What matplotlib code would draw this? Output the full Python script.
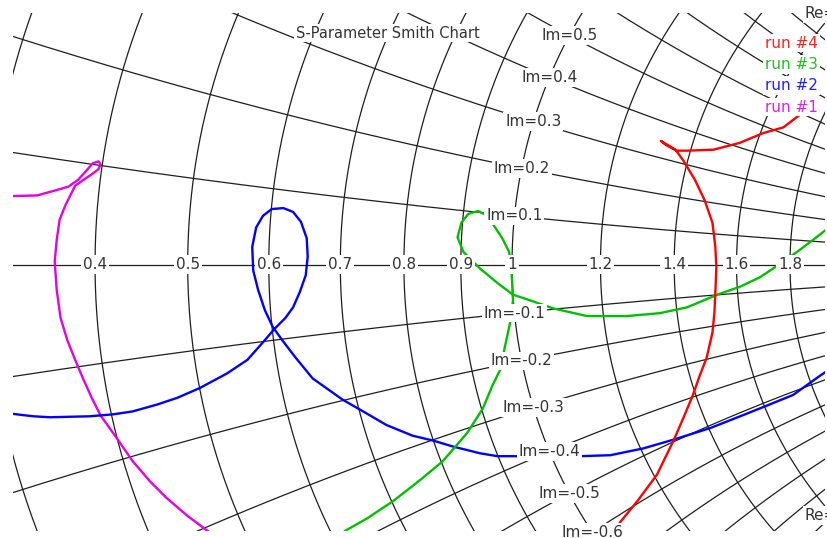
import numpy as np
import matplotlib
matplotlib.use("Agg")
import matplotlib.pyplot as plt

# S-parameter traces, reflection coefficient (real, imag)
run1_re = [-0.526, -0.488, -0.470, -0.456, -0.446, -0.437, -0.431, -0.425, -0.423, -0.425, -0.433, -0.442,
           -0.449, -0.454, -0.459, -0.465, -0.468, -0.470, -0.468, -0.464, -0.457, -0.449, -0.441, -0.432,
           -0.423, -0.408, -0.390, -0.372, -0.355, -0.334, -0.314, -0.300]
run1_im = [0.070, 0.071, 0.076, 0.080, 0.087, 0.097, 0.104, 0.106, 0.103, 0.098, 0.092, 0.086,
           0.081, 0.071, 0.061, 0.046, 0.025, 0.003, -0.026, -0.055, -0.078, -0.098, -0.117, -0.137,
           -0.155, -0.176, -0.202, -0.223, -0.240, -0.258, -0.273, -0.283]

run2_re = [-0.526, -0.492, -0.475, -0.434, -0.410, -0.390, -0.365, -0.344, -0.321, -0.293, -0.272, -0.256,
           -0.244, -0.233, -0.225, -0.218, -0.212, -0.210, -0.211, -0.217, -0.225, -0.235, -0.247, -0.256,
           -0.263, -0.267, -0.266, -0.261, -0.254, -0.246, -0.236, -0.223, -0.205, -0.174, -0.153, -0.129,
           -0.102, -0.081, -0.061, -0.033, -0.015, 0.001, 0.034, 0.070, 0.101, 0.135, 0.166, 0.204, 0.237,
           0.262, 0.289, 0.317, 0.332]
run2_im = [-0.152, -0.156, -0.157, -0.156, -0.154, -0.151, -0.144, -0.137, -0.127, -0.112, -0.098, -0.080,
           -0.066, -0.055, -0.044, -0.028, -0.011, 0.008, 0.027, 0.044, 0.054, 0.058, 0.057, 0.050,
           0.038, 0.018, -0.006, -0.026, -0.047, -0.064, -0.078, -0.095, -0.117, -0.139, -0.151, -0.165,
           -0.176, -0.181, -0.187, -0.194, -0.197, -0.197, -0.198, -0.197, -0.196, -0.189, -0.180, -0.168,
           -0.155, -0.145, -0.134, -0.114, -0.104]

run3_re = [-0.177, -0.172, -0.149, -0.122, -0.095, -0.071, -0.046, -0.030, -0.020, -0.012, -0.007, -0.002,
           0.001, 0.000, -0.001, -0.003, -0.010, -0.018, -0.025, -0.035, -0.045, -0.052, -0.056, -0.050,
           -0.033, -0.015, 0.001, 0.019, 0.042, 0.077, 0.118, 0.152, 0.180, 0.211, 0.234, 0.255, 0.270,
           0.293, 0.309, 0.327]
run3_im = [-0.283, -0.274, -0.261, -0.243, -0.222, -0.202, -0.173, -0.148, -0.124, -0.108, -0.083, -0.060,
           -0.037, -0.016, -0.001, 0.013, 0.027, 0.039, 0.050, 0.055, 0.052, 0.043, 0.028, 0.013,
           -0.004, -0.019, -0.031, -0.037, -0.045, -0.053, -0.053, -0.050, -0.044, -0.031, -0.023, -0.013, -0.003,
           0.013, 0.025, 0.039]

run4_re = [0.111, 0.129, 0.149, 0.166, 0.176, 0.186, 0.193, 0.200, 0.206, 0.208, 0.209, 0.210, 0.209,
           0.206, 0.198, 0.188, 0.176, 0.168, 0.153, 0.158, 0.169, 0.180, 0.207, 0.234, 0.258, 0.279, 0.296]
run4_im = [-0.265, -0.243, -0.216, -0.181, -0.158, -0.134, -0.114, -0.096, -0.070, -0.050, -0.029, -0.003, 0.018,
           0.043, 0.066, 0.087, 0.107, 0.118, 0.127, 0.123, 0.117, 0.117, 0.118, 0.125, 0.135, 0.141, 0.154]

run_names = ["run #1", "run #2", "run #3", "run #4"]
run_colors = ["#e600e6", "#0000ff", "#00c000", "#ff0000"]
legend_colors = ["#e020e0", "#2020ff", "#20c020", "#ff2020"]

# Smith chart grid values
r_grid = [0.1, 0.2, 0.3, 0.4, 0.5, 0.6, 0.7, 0.8, 0.9, 1.0, 1.2, 1.4, 1.6, 1.8, 2.0, 3.0, 4.0, 5.0, 10.0, 20.0]
x_grid = [0.1, 0.2, 0.3, 0.4, 0.5, 0.6, 0.7, 0.8, 0.9, 1.0, 1.2, 1.4, 1.6, 1.8, 2.0, 3.0, 4.0, 5.0, 10.0, 20.0]
r_axis_labels = [0.4, 0.5, 0.6, 0.7, 0.8, 0.9, 1, 1.2, 1.4, 1.6, 1.8]
im_labels = [0.5, 0.4, 0.3, 0.2, 0.1, -0.1, -0.2, -0.3, -0.4, -0.5, -0.6]
re_labels = [1.6]


def gamma(z):
    return (z - 1) / (z + 1)


fig = plt.figure(figsize=(8.28, 5.38), dpi=100)
ax = fig.add_axes([13 / 828, 7 / 538, 812 / 828, 518 / 538])
ax.set_xlim(-0.5129, 0.3217)
ax.set_ylim(-0.2739, 0.2585)
ax.axis("off")

gc = "#1e1e1e"
glw = 0.9
t = np.concatenate([np.linspace(0, 5, 3000), np.logspace(0.7, 4, 600)])
tt = np.concatenate([-t[::-1], t])

for r in r_grid:
    g = gamma(r + 1j * tt)
    ax.plot(g.real, g.imag, color=gc, lw=glw, zorder=1)
for x in x_grid:
    for s in (1, -1):
        g = gamma(t + 1j * s * x)
        ax.plot(g.real, g.imag, color=gc, lw=glw, zorder=1)
ax.plot([-1, 1], [0, 0], color=gc, lw=glw, zorder=1)

runs = [(run1_re, run1_im), (run2_re, run2_im), (run3_re, run3_im), (run4_re, run4_im)]
for (re, im), c in zip(runs, run_colors):
    ax.plot(re, im, color=c, lw=1.7, zorder=2, solid_joinstyle="round")

box = dict(boxstyle="square,pad=0.12", fc="white", ec="none")
fs = 11
for r in r_axis_labels:
    g = gamma(r)
    ax.text(g, 0, f"{r:g}", ha="center", va="center", fontsize=fs, color="#333333",
            bbox=box, zorder=3, clip_on=False)
for x in im_labels:
    g = gamma(1 + 1j * x)
    ax.text(g.real, g.imag, f"Im={x:g}", ha="center", va="center", fontsize=fs, color="#333333",
            bbox=box, zorder=3, clip_on=False)
for r in re_labels:
    for s in (1, -1):
        g = gamma(r + 1j * s)
        ax.text(g.real, g.imag, f"Re={r:g}", ha="center", va="center", fontsize=fs, color="#333333",
                bbox=box, zorder=3, clip_on=False)

fig.text(388 / 828, 1 - 33 / 538, "S-Parameter Smith Chart", ha="center", va="center",
         fontsize=fs - 0.5, color="#333333", bbox=box, zorder=5)

for i, (name, c) in enumerate(zip(run_names, legend_colors)):
    fig.text(818 / 828, 1 - (107 - 21.3 * i) / 538, name, ha="right", va="center",
             fontsize=fs, color=c, bbox=box, zorder=5)

fig.savefig("out.png", dpi=100)
